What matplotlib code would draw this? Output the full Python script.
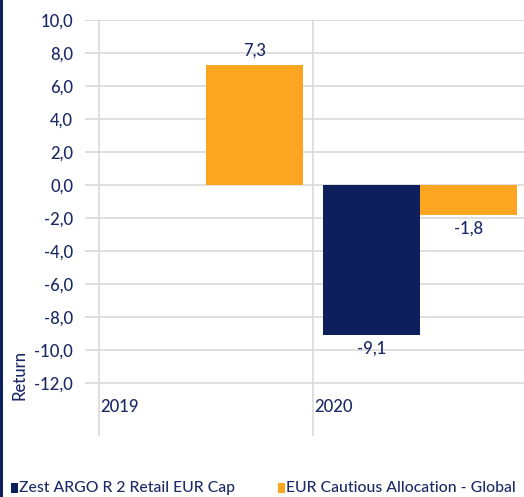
import matplotlib
matplotlib.use("Agg")
import matplotlib.pyplot as plt
from matplotlib.patches import Rectangle
import numpy as np

# ---- data ----
categories = ["2019", "2020"]
series_names = ["Zest ARGO R 2 Retail EUR Cap", "EUR Cautious Allocation - Global"]
fund_values = [np.nan, -9.1]
benchmark_values = [7.3, -1.8]
y_ticks = [10, 8, 6, 4, 2, 0, -2, -4, -6, -8, -10, -12]
y_label = "Return"

NAVY = "#0D1F5D"
ORANGE = "#FBA520"
TEXT = "#1B2A66"
GRID = "#D9D9D9"
FONT = "Lato"
WEIGHT = 500

W, H = 524, 497
fig = plt.figure(figsize=(W / 100, H / 100), dpi=100)
fig.patch.set_facecolor("white")

def fx(px):
    return px / W

def fy(py):
    return 1 - py / H

ax_left, ax_right = 85, 524
ax_top, ax_bot = 20, 436
ax = fig.add_axes([fx(ax_left), fy(ax_bot), fx(ax_right - ax_left), (ax_bot - ax_top) / H])

cat_px = 214.0
x0_px = 99.0
ax.set_xlim((ax_left - x0_px) / cat_px, (ax_right - x0_px) / cat_px)
y_top = 10.0
px_per_unit = 16.5
ax.set_ylim(y_top - (ax_bot - ax_top) / px_per_unit, y_top)

for s in ax.spines.values():
    s.set_visible(False)

ax.set_xticks([])
ax.set_yticks(y_ticks)
ax.set_yticklabels([f"{v:.1f}".replace(".", ",") for v in y_ticks])
ax.tick_params(axis="y", length=0, pad=8.6, labelsize=12, labelcolor=TEXT)
for lbl in ax.get_yticklabels():
    lbl.set_fontfamily(FONT)
    lbl.set_fontweight(WEIGHT)

for v in y_ticks:
    ax.axhline(v, color=GRID, lw=1.2, zorder=1)
for i in range(len(categories) + 1):
    ax.axvline(i, color=GRID, lw=1.2, zorder=1)

x = np.arange(len(categories))
bw = 0.453
off = 0.227
ax.bar(x + 0.5 - off, fund_values, width=bw, color=NAVY, zorder=3)
ax.bar(x + 0.5 + off, benchmark_values, width=bw, color=ORANGE, zorder=3)

def fmt(v):
    return f"{v:.1f}".replace(".", ",")

for xs, vals in ((x + 0.5 - off, fund_values), (x + 0.5 + off, benchmark_values)):
    for xi, v in zip(xs, vals):
        if np.isnan(v):
            continue
        if v >= 0:
            ax.annotate(fmt(v), (xi, v), xytext=(0, 4), textcoords="offset points",
                        ha="center", va="bottom", fontsize=12, color=TEXT,
                        fontfamily=FONT, fontweight=WEIGHT)
        else:
            ax.annotate(fmt(v), (xi, v), xytext=(0, -4), textcoords="offset points",
                        ha="center", va="top", fontsize=12, color=TEXT,
                        fontfamily=FONT, fontweight=WEIGHT)

for i, c in enumerate(categories):
    ax.text(i + 1.5 / cat_px, -13.45, c, ha="left", va="center", fontsize=12,
            color=TEXT, fontfamily=FONT, fontweight=WEIGHT, zorder=4)

fig.text(fx(20), fy(375), y_label, rotation=90, ha="center", va="center",
         fontsize=12, color=TEXT, fontfamily=FONT, fontweight=WEIGHT)

# left border
fig.patches.append(Rectangle((0, 0), fx(2.5), 1, transform=fig.transFigure,
                             facecolor=NAVY, edgecolor="none"))

# legend
legend_items = [(11, NAVY), (278, ORANGE)]
for (lx, col), name in zip(legend_items, series_names):
    fig.patches.append(Rectangle((fx(lx), fy(493)), fx(7), 10 / H, transform=fig.transFigure,
                                 facecolor=col, edgecolor="none"))
    fig.text(fx(lx + 8), fy(488), name, ha="left", va="center", fontsize=11.3,
             color=TEXT, fontfamily=FONT, fontweight=WEIGHT)

fig.savefig("out.png", dpi=100)
